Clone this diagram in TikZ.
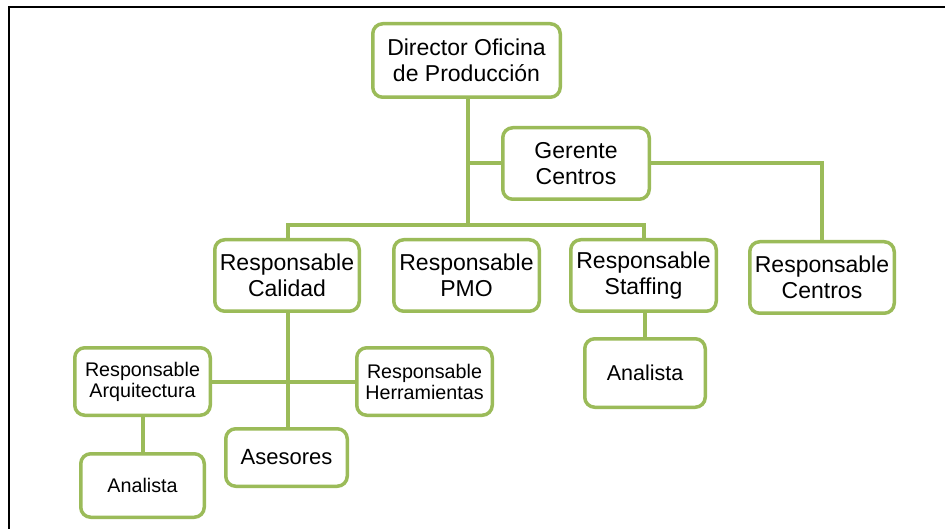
\documentclass[tikz,border=0pt]{standalone}
\usepackage{fontspec}
\setmainfont{Liberation Sans}
\usetikzlibrary{backgrounds}
\definecolor{ogreen}{HTML}{9BBB59}
\begin{document}
\begin{tikzpicture}[x=1pt,y=-1pt,
  box/.style={draw=ogreen, line width=3.5pt, rounded corners=10pt, fill=white,
    align=center, inner sep=0pt, text=black},
  big/.style={font=\fontsize{23}{26.5}\selectfont},
  small/.style={font=\fontsize{19.7}{21}\selectfont},
  conn/.style={draw=ogreen, line width=4pt}]
\useasboundingbox (0,0) rectangle (945,529);

\coordinate (busL) at (288,225);
\coordinate (busR) at (644,225);
\coordinate (trunkbot) at (467.5,225);
\coordinate (gerc) at (822,163.5);

\node[box,big,minimum width=187.5pt,minimum height=73.5pt] (dir) at (466.5,60.5) {Director Oficina\\de Producción};
\node[box,big,minimum width=146.5pt,minimum height=71.5pt] (ger) at (576,163.5) {Gerente\\Centros};
\node[box,big,minimum width=144.5pt,minimum height=71.5pt] (cal) at (287,275.5) {Responsable\\Calidad};
\node[box,big,minimum width=145.5pt,minimum height=71.5pt] (pmo) at (466.5,275.5) {Responsable\\PMO};
\node[box,big,minimum width=145.5pt,minimum height=71.5pt] (sta) at (643.5,275.5) {Responsable\\Staffing};
\node[box,big,minimum width=144.5pt,minimum height=71.5pt] (cen) at (822,277.5) {Responsable\\Centros};
\node[box,small,minimum width=135.5pt,minimum height=67.5pt] (arq) at (142.5,381.5) {Responsable\\Arquitectura};
\node[box,small,minimum width=135.5pt,minimum height=67.5pt] (her) at (424.5,381.5) {Responsable\\Herramientas};
\node[box,font=\fontsize{22}{25}\selectfont,minimum width=121.5pt,minimum height=57.5pt] (ase) at (286.5,457.5) {Asesores};
\node[box,small,minimum width=123.5pt,minimum height=63.5pt] (anl) at (142.5,485.5) {Analista};
\node[box,font=\fontsize{21.5}{24}\selectfont,minimum width=120.5pt,minimum height=68.5pt] (anr) at (645,373) {Analista};

\begin{pgfonlayer}{background}
\fill[white] (0,0) rectangle (945,529);
\draw[line width=2.5pt] (945,7) -- (9,7) -- (9,529);
\path[conn] (dir.center -| trunkbot) -- (trunkbot);
\path[conn] (ger.center -| trunkbot) -- (ger.center);
\path[conn] (cal.center -| busL) -- (busL) -- (busR) -- (sta.center -| busR);
\path[conn] (ger.center) -- (gerc) -- (cen.center);
\path[conn] (cal.center -| busL) -- (ase.center -| busL);
\path[conn] (arq.center) -- (her.center);
\path[conn] (arq.center -| anl.center) -- (anl.center);
\path[conn] (sta.center -| anr.center) -- (anr.center);
\end{pgfonlayer}
\end{tikzpicture}
\end{document}
